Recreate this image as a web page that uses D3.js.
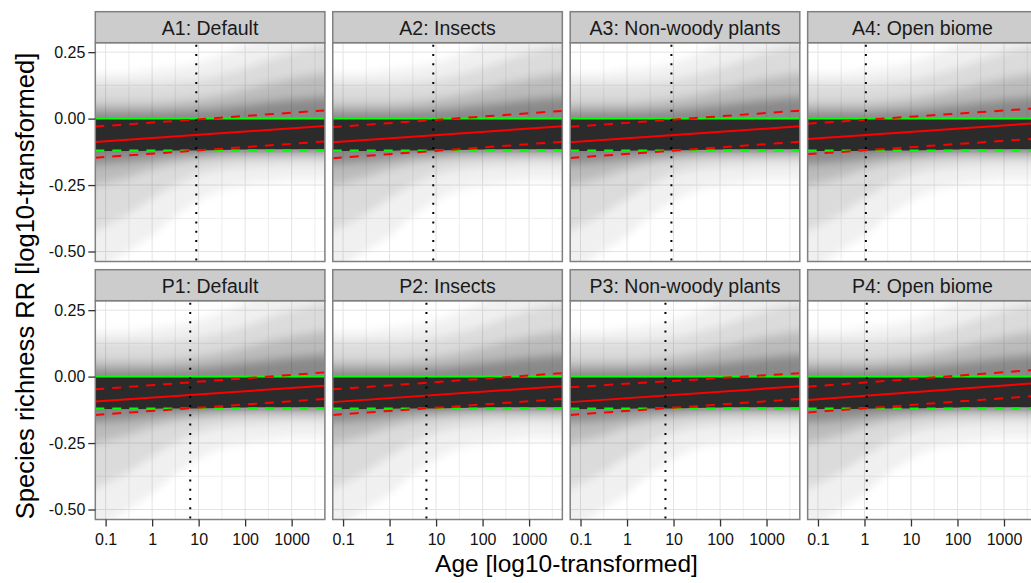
<!DOCTYPE html>
<html>
<head>
<meta charset="utf-8">
<script src="https://cdn.jsdelivr.net/npm/d3@7"></script>
<style>
	body { margin: 0; background: #fff; overflow: hidden; }
	text { font-family: "Liberation Sans", Arial, Helvetica, sans-serif; }
</style>
</head>
<body>
<div id="chart"></div>
<script>
// DATA
const panelNames = ["A1: Default", "A2: Insects", "A3: Non-woody plants", "A4: Open biome",
	"P1: Default", "P2: Insects", "P3: Non-woody plants", "P4: Open biome"];

// vertical dotted line (age)
const cutoffAges = [8.9, 8.7, 9.0, 1.07, 6.6, 6.2, 6.7, 1.12];

// red fitted line + dashed band, values at the two ends of the age axis
const fitAges = [0.06, 5190];
const fitMid = [[-0.088, -0.028], [-0.089, -0.029], [-0.089, -0.029], [-0.077, -0.017],
	[-0.094, -0.034], [-0.096, -0.036], [-0.096, -0.036], [-0.088, -0.024]];
const fitUpper = [[-0.030, 0.031], [-0.032, 0.029], [-0.031, 0.030], [-0.019, 0.039],
	[-0.048, 0.016], [-0.048, 0.013], [-0.040, 0.013], [-0.038, 0.026]];
const fitLower = [[-0.147, -0.086], [-0.149, -0.087], [-0.148, -0.087], [-0.134, -0.075],
	[-0.144, -0.084], [-0.144, -0.084], [-0.144, -0.084], [-0.135, -0.072]];

// green reference lines
const refSolid = 0;
const refDashed = -0.12;

// grey cloud of trajectories, as nested bands
const cloudAges = [0.06, 0.3, 1, 3, 10, 30, 100, 300, 1000, 5190];
const cloudOuterHi = [0.17, 0.17, 0.18, 0.19, 0.21, 0.24, 0.28, 0.31, 0.33, 0.34];
const cloudOuterLo = [-0.58, -0.50, -0.44, -0.37, -0.31, -0.27, -0.25, -0.24, -0.23, -0.23];
const cloudWideHi = [0.13, 0.13, 0.13, 0.135, 0.145, 0.165, 0.19, 0.22, 0.25, 0.28];
const cloudWideLo = [-0.42, -0.36, -0.30, -0.25, -0.21, -0.19, -0.18, -0.175, -0.17, -0.17];
const cloudMidHi = [0.06, 0.06, 0.06, 0.065, 0.075, 0.09, 0.11, 0.13, 0.15, 0.17];
const cloudMidLo = [-0.25, -0.22, -0.19, -0.17, -0.155, -0.145, -0.14, -0.14, -0.14, -0.14];
const cloudInnerHi = [0.025, 0.025, 0.025, 0.028, 0.032, 0.04, 0.05, 0.06, 0.07, 0.08];
const cloudInnerLo = [-0.17, -0.16, -0.15, -0.14, -0.135, -0.13, -0.128, -0.127, -0.126, -0.125];
const coreHi = [0, 0, 0, 0, 0, 0, 0, 0, 0, 0];
const coreLo = [-0.122, -0.122, -0.121, -0.12, -0.12, -0.118, -0.116, -0.115, -0.115, -0.115];

// axes
const xTicks = [0.1, 1, 10, 100, 1000];
const xTickLabels = ["0.1", "1", "10", "100", "1000"];
const xMinor = [0.316, 3.16, 31.6, 316, 3162];
const yTicks = [0.25, 0, -0.25, -0.5];
const yTickLabels = ["0.25", "0.00", "-0.25", "-0.50"];
const yMinor = [0.125, -0.125, -0.375];


// D3.JS
const W = 1031, H = 583;
const panelLeft = 95.3, panelW = 229.6, panelStep = 237.45;
const rowTop = [42.7, 300.7], panelH = 218.8, stripH = 31;

const svg = d3.select("#chart")
	.append("svg")
	.attr("width", W)
	.attr("height", H);

// soften the band edges vertically only
svg.append("defs")
	.append("filter")
	.attr("id", "soft")
	.attr("x", "-5%").attr("y", "-20%")
	.attr("width", "110%").attr("height", "140%")
	.append("feGaussianBlur")
	.attr("stdDeviation", "0 5");

const x = d3.scaleLog()
	.domain([0.06, 5190])
	.range([0, panelW]);

const y = d3.scaleLinear()
	.domain([-0.5376, 0.2856])
	.range([panelH, 0]);

function band(hi, lo) {
	return cloudAges.map((a, i) => ({ age: a, hi: hi[i], lo: lo[i] }));
}

const cloudLayers = [
	{ data: band(cloudOuterHi, cloudOuterLo), opacity: 0.06 },
	{ data: band(cloudWideHi, cloudWideLo), opacity: 0.09 },
	{ data: band(cloudMidHi, cloudMidLo), opacity: 0.15 },
	{ data: band(cloudInnerHi, cloudInnerLo), opacity: 0.27 }
];

const area = d3.area()
	.x(d => x(d.age))
	.y0(d => y(d.lo))
	.y1(d => y(d.hi))
	.curve(d3.curveMonotoneX);

const line = d3.line()
	.x(d => x(d.age))
	.y(d => y(d.v));

panelNames.forEach((name, i) => {
	const col = i % 4;
	const row = Math.floor(i / 4);
	const g = svg.append("g")
		.attr("transform", `translate(${panelLeft + col * panelStep}, ${rowTop[row]})`);

	g.append("clipPath")
		.attr("id", "clip" + i)
		.append("rect")
		.attr("width", panelW)
		.attr("height", panelH);

	g.append("rect")
		.attr("width", panelW)
		.attr("height", panelH)
		.attr("fill", "#fff");

	// grid
	const grid = g.append("g");
	grid.selectAll(".xminor").data(xMinor).enter().append("line")
		.attr("x1", d => x(d)).attr("x2", d => x(d))
		.attr("y1", 0).attr("y2", panelH)
		.attr("stroke", "#f0f0f0").attr("stroke-width", 1.2);
	grid.selectAll(".yminor").data(yMinor).enter().append("line")
		.attr("x1", 0).attr("x2", panelW)
		.attr("y1", d => y(d)).attr("y2", d => y(d))
		.attr("stroke", "#f0f0f0").attr("stroke-width", 1.2);
	grid.selectAll(".xmajor").data(xTicks).enter().append("line")
		.attr("x1", d => x(d)).attr("x2", d => x(d))
		.attr("y1", 0).attr("y2", panelH)
		.attr("stroke", "#e3e3e3").attr("stroke-width", 1);
	grid.selectAll(".ymajor").data(yTicks).enter().append("line")
		.attr("x1", 0).attr("x2", panelW)
		.attr("y1", d => y(d)).attr("y2", d => y(d))
		.attr("stroke", "#e3e3e3").attr("stroke-width", 1);

	const plot = g.append("g").attr("clip-path", `url(#clip${i})`);

	// cloud
	const cloud = plot.append("g").attr("filter", "url(#soft)");
	cloudLayers.forEach(layer => {
		cloud.append("path")
			.datum(layer.data)
			.attr("d", area)
			.attr("fill", "#000")
			.attr("fill-opacity", layer.opacity);
	});

	plot.append("path")
		.datum(band(coreHi, coreLo))
		.attr("d", area)
		.attr("fill", "#2b2b2b");

	// green reference lines
	plot.append("path")
		.datum(fitAges.map(a => ({ age: a, v: refSolid })))
		.attr("d", line)
		.attr("fill", "none")
		.attr("stroke", "#00ff00")
		.attr("stroke-width", 2);

	plot.append("path")
		.datum(fitAges.map(a => ({ age: a, v: refDashed })))
		.attr("d", line)
		.attr("fill", "none")
		.attr("stroke", "#00ff00")
		.attr("stroke-width", 2)
		.attr("stroke-dasharray", "9,8");

	// red fit
	[fitUpper[i], fitLower[i]].forEach(vals => {
		plot.append("path")
			.datum(fitAges.map((a, k) => ({ age: a, v: vals[k] })))
			.attr("d", line)
			.attr("fill", "none")
			.attr("stroke", "#ff0000")
			.attr("stroke-width", 2)
			.attr("stroke-dasharray", "9,8");
	});

	plot.append("path")
		.datum(fitAges.map((a, k) => ({ age: a, v: fitMid[i][k] })))
		.attr("d", line)
		.attr("fill", "none")
		.attr("stroke", "#ff0000")
		.attr("stroke-width", 2);

	// cutoff
	plot.append("line")
		.attr("x1", x(cutoffAges[i])).attr("x2", x(cutoffAges[i]))
		.attr("y1", 0).attr("y2", panelH)
		.attr("stroke", "#000")
		.attr("stroke-width", 2)
		.attr("stroke-dasharray", "2,7.3")
		.attr("stroke-dashoffset", -2);

	// border
	g.append("rect")
		.attr("width", panelW)
		.attr("height", panelH)
		.attr("fill", "none")
		.attr("stroke", "#808080")
		.attr("stroke-width", 1.5);

	// strip
	g.append("rect")
		.attr("y", -stripH)
		.attr("width", panelW)
		.attr("height", stripH)
		.attr("fill", "#cccccc")
		.attr("stroke", "#808080")
		.attr("stroke-width", 1.5);

	g.append("text")
		.attr("x", panelW / 2)
		.attr("y", -stripH + 23.4)
		.attr("text-anchor", "middle")
		.attr("font-size", "19.5px")
		.attr("fill", "#1a1a1a")
		.text(name);

	// axes
	if (col === 0) {
		const yAxis = d3.axisLeft(y)
			.tickValues(yTicks)
			.tickFormat((d, k) => yTickLabels[k])
			.tickSize(7)
			.tickPadding(3);
		const ya = g.append("g").call(yAxis);
		ya.select(".domain").remove();
		ya.selectAll("line").attr("stroke", "#333").attr("stroke-width", 1.3);
		ya.selectAll("text").attr("font-size", "16px").attr("fill", "#111")
			.style("font-family", '"Liberation Sans", Arial, sans-serif');
	}
	if (row === 1) {
		const xAxis = d3.axisBottom(x)
			.tickValues(xTicks)
			.tickFormat((d, k) => xTickLabels[k])
			.tickSize(7)
			.tickPadding(7);
		const xa = g.append("g")
			.attr("transform", `translate(0, ${panelH})`)
			.call(xAxis);
		xa.select(".domain").remove();
		xa.selectAll("line").attr("stroke", "#333").attr("stroke-width", 1.3);
		xa.selectAll("text").attr("font-size", "16px").attr("fill", "#111")
			.style("font-family", '"Liberation Sans", Arial, sans-serif');
	}
});

// titles
svg.append("text")
	.attr("x", 566.5)
	.attr("y", 571.5)
	.attr("text-anchor", "middle")
	.attr("font-size", "24.5px")
	.attr("fill", "#000")
	.text("Age [log10-transformed]");

svg.append("text")
	.attr("transform", "translate(33.5, 286) rotate(-90)")
	.attr("text-anchor", "middle")
	.attr("font-size", "25.6px")
	.attr("fill", "#000")
	.text("Species richness RR [log10-transformed]");
</script>
</body>
</html>
